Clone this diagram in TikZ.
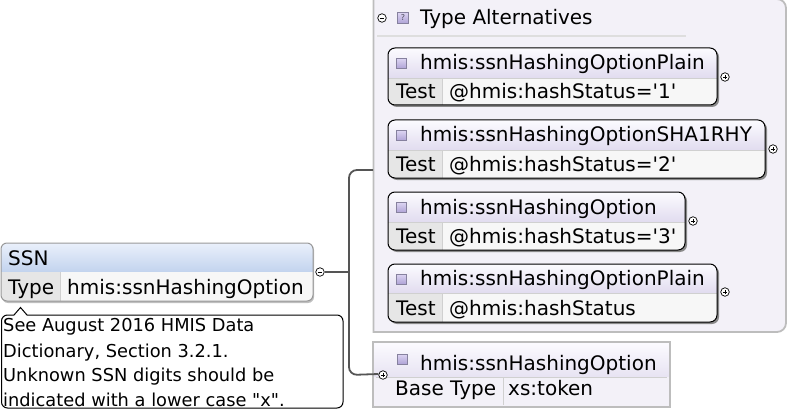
\documentclass[tikz,border=0pt]{standalone}
\usepackage{fontspec}
\setmainfont{DejaVu Sans}[Ligatures=TeXOff]
\definecolor{hdtop}{HTML}{FCFBFF}
\definecolor{hdbot}{HTML}{E1DCEF}
\definecolor{ssntop}{HTML}{EAF0FB}
\definecolor{ssnbot}{HTML}{C2D3EE}
\definecolor{testc}{HTML}{E6E6E6}
\definecolor{valc}{HTML}{F7F7F7}
\definecolor{divc}{HTML}{D0D0D0}
\definecolor{shadowc}{HTML}{8A8A8A}
\definecolor{contfill}{HTML}{F3F1F8}
\definecolor{contdraw}{HTML}{BDBDBD}
\definecolor{icontop}{HTML}{DCD4F2}
\definecolor{iconbot}{HTML}{AFA3D6}
\definecolor{icondraw}{HTML}{86819E}
\definecolor{linec}{HTML}{555555}
\tikzset{
  big/.style={anchor=base west, inner sep=0pt, font=\fontsize{20}{24}\selectfont},
  small/.style={anchor=base west, inner sep=0pt, font=\fontsize{17.8}{24}\selectfont},
  icon/.style={draw=icondraw, line width=0.6pt, top color=icontop, bottom color=iconbot, minimum size=10pt, inner sep=0pt},
  pmc/.style={circle, draw=black, line width=0.7pt, fill=white, minimum size=8.5pt, inner sep=0pt},
  plusc/.style={pmc, path picture={\draw[line width=0.7pt] ([xshift=-2.2pt]path picture bounding box.center) -- ([xshift=2.2pt]path picture bounding box.center);
    \draw[line width=0.7pt] ([yshift=-2.2pt]path picture bounding box.center) -- ([yshift=2.2pt]path picture bounding box.center);}},
  minusc/.style={pmc, path picture={\draw[line width=0.7pt] ([xshift=-2.2pt]path picture bounding box.center) -- ([xshift=2.2pt]path picture bounding box.center);}},
  conn/.style={draw=linec, line width=1.8pt},
}
% #1 name, #2 x1, #3 y1, #4 x2, #5 ydiv, #6 y2, #7 title, #8 test, #9 title baseline
\newcommand\altbox[9]{%
  \fill[shadowc, rounded corners=7pt] (#2+2,#3+2) rectangle (#4+2,#6+2);
  \begin{scope}
    \clip[rounded corners=7pt] (#2,#3) rectangle (#4,#6);
    \shade[top color=hdtop, bottom color=hdbot] (#2,#3) rectangle (#4,#5);
    \fill[testc] (#2,#5) rectangle (442,#6);
    \fill[valc] (442,#5) rectangle (#4,#6);
  \end{scope}
  \draw[divc, line width=0.8pt] (#2,#5) -- (#4,#5) (442,#5) -- (442,#6);
  \draw[black, line width=1pt, rounded corners=7pt] (#2,#3) rectangle (#4,#6);
  \node[icon] (#1i) at (401,{(#3+#5)/2+0.5}) {};
  \node[big] (#1t) at (420,#9) {#7};
  \node[big] (#1k) at (396,#9+29.5) {Test};
  \node[big] (#1v) at (449,#9+29.5) {#8};
  \node[plusc] (#1p) at (#4+8,#5-1) {};
}
\begin{document}
\begin{tikzpicture}[x=1pt,y=-1pt]
\useasboundingbox (0,0) rectangle (788,412);

% Type alternatives container
\path[fill=contfill, draw=contdraw, line width=1.8pt] (373.5,-1) [rounded corners=9pt] -- (786,-1) -- (786,332) [sharp corners] -- (373.5,332) -- cycle;
\node[minusc] (tam) at (382,18) {};
\node[icon, minimum size=11pt] (taq) at (403,18) {\fontsize{8}{8}\selectfont\color{icondraw!60!black}?};
\node[big] (tat) at (420,25) {Type Alternatives};
\draw[divc!70!white, line width=1.5pt] (377,36) -- (686,36);

\altbox{a}{388}{48}{717}{78}{105}{hmis:ssnHashingOptionPlain}{@hmis:hashStatus='1'}{69.5}
\altbox{b}{388}{120}{765}{150}{178}{hmis:ssnHashingOptionSHA1RHY}{@hmis:hashStatus='2'}{142}
\altbox{c}{388}{192}{685}{222}{250}{hmis:ssnHashingOption}{@hmis:hashStatus='3'}{214}
\altbox{d}{388}{264}{717}{293}{322}{hmis:ssnHashingOptionPlain}{@hmis:hashStatus}{285.5}

% Base type box
\begin{scope}
  \shade[top color=hdtop, bottom color=hdbot!80!white] (373,342) rectangle (670,377);
  \fill[contfill] (373,377) rectangle (670,407);
\end{scope}
\draw[divc, line width=0.8pt] (376,377) -- (667,377) (503,377) -- (503,405);
\draw[contdraw, line width=2pt] (373,342) rectangle (670,407);
\node[icon] (bti) at (402,359) {};
\node[big] (btt) at (420,370) {hmis:ssnHashingOption};
\node[big] (btk) at (395,395.7) {Base Type};
\node[big] (btv) at (508,395.7) {xs:token};
\node[plusc] (btp) at (383,375) {};

% SSN element
\fill[black!25, rounded corners=6pt] (2,244) rectangle (314,303);
\begin{scope}
  \clip[rounded corners=6pt] (1,243) rectangle (313,301);
  \shade[top color=ssntop, bottom color=ssnbot] (1,243) rectangle (313,272);
  \fill[testc] (1,272) rectangle (60,301);
  \fill[valc] (60,272) rectangle (313,301);
\end{scope}
\draw[divc, line width=0.8pt] (60,272) -- (60,301);
\draw[black!40, line width=1pt, rounded corners=6pt] (1,243) rectangle (313,301);
\node[big] (ssn) at (8,265) {SSN};
\node[big] (ssnk) at (8,294) {Type};
\node[big] (ssnv) at (67,294) {hmis:ssnHashingOption};
\node[minusc] (ssnm) at (320,272) {};

% annotation
\draw[black, line width=1pt, fill=white, rounded corners=6pt] (1.5,315) rectangle (343,408);
\fill[white] (14,316) -- (20.5,307.5) -- (27,316) -- cycle;
\draw[black, line width=1pt] (14,315) -- (20.5,307.5) -- (27,315);
\node[small] (cm1) at (3,331.7) {See August 2016 HMIS Data};
\node[small] (cm2) at (3,357) {Dictionary, Section 3.2.1.};
\node[small] (cm3) at (3,381.7) {Unknown SSN digits should be};
\node[small] (cm4) at (3,406) {indicated with a lower case "x".};

% connectors
\coordinate (jx) at (349,272);
\coordinate (tain) at (373,170);
\draw[conn] (ssnm.east) -- (jx);
\draw[conn, rounded corners=8pt] (tain) -- (jx |- tain) -- (jx |- btp) -- ([yshift=1pt]btp.west);
\end{tikzpicture}
\end{document}
